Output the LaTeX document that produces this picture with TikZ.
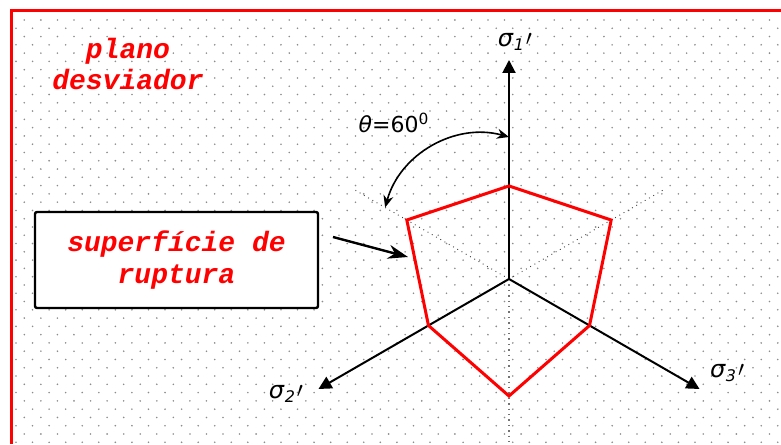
\documentclass[tikz,border=0pt]{standalone}
\usepackage{fontspec}
\usetikzlibrary{arrows.meta}
\newfontfamily\notefont{Liberation Mono}
\newfontfamily\greekfont{DejaVu Sans}
\definecolor{planered}{RGB}{255,0,0}
\definecolor{dotgray}{RGB}{140,140,140}
\newcommand\primemark{\kern0.5pt\raisebox{0.1ex}{\fontsize{11}{11}\selectfont$\prime$}}

\begin{document}
\begin{tikzpicture}[
  x=0.5pt, y=0.5pt,
  axis/.style={line width=1pt,-{Triangle[length=6.5pt,width=6.5pt]}},
  guide/.style={dotted,line width=0.45pt,black!75},
  rupt/.style={draw=planered,line width=1.5pt},
  redtxt/.style={text=planered,align=center,
    font=\notefont\bfseries\itshape\fontsize{14}{15.8}\selectfont},
  sigmalbl/.style={inner sep=0pt,font=\greekfont\fontsize{12}{14}\selectfont},
  anglearr/.style={line width=0.8pt,
    {Stealth[length=6pt,width=5pt]}-{Stealth[length=6pt,width=5pt]}},
  ptr/.style={line width=1.2pt,-{Stealth[length=10pt,width=7pt]}}
]
\useasboundingbox (0,0) rectangle (781,444);
\clip (0,0) rectangle (781,444);

% dotted paper
\foreach \j in {0,...,51}{
  \pgfmathsetmacro\yy{424-8.28*\j}
  \pgfmathsetmacro\xo{24.3-8.3*mod(\j,2)}
  \fill[dotgray] \foreach \i in {0,...,46} {(\xo+16.56*\i,\yy) circle (0.9)};
}

% frame (only left and top edges fall inside)
\coordinate (fbl) at (11,0);
\coordinate (ftl) at (11,433);
\coordinate (ftr) at (781,433);
\draw[planered,line width=1.5pt] (fbl) -- (ftl) -- (ftr);

% deviatoric plane: origin, axes, guide lines
\coordinate (O) at (509,165);
\coordinate (s1) at ([shift={(90:219)}]O);
\coordinate (s2) at ([shift={(210:220)}]O);
\coordinate (s3) at ([shift={(330:220)}]O);
\coordinate (g1) at ([shift={(150:178)}]O);
\coordinate (g2) at ([shift={(30:178)}]O);
\coordinate (g3) at ([shift={(270:165)}]O);

\draw[guide] (O) -- (g1);
\draw[guide] (O) -- (g2);
\draw[guide,black!55,line width=0.7pt] (O) -- (g3);

\draw[axis] (O) -- (s1);
\draw[axis] (O) -- (s2);
\draw[axis] (O) -- (s3);

% failure surface
\foreach \ang/\rad [count=\k] in {90/93,150/118,210/93,270/117,330/93,30/118}
  \coordinate (h\k) at ([shift={(\ang:\rad)}]O);
\draw[rupt] (h1)--(h2)--(h3)--(h4)--(h5)--(h6)--cycle;

% angle between axis and guide
\coordinate (a1) at ([shift={(150:143)}]O);
\coordinate (a2) at ([shift={(90:142)}]O);
\draw[anglearr] (a1) to[bend left=45] (a2);

% labels
\node[redtxt] (plano) at (128,380) {plano\\desviador};

\node[redtxt,draw=black,fill=white,line width=1.2pt,rounded corners=1pt,
  minimum width=141.5pt,minimum height=48pt] (sup) at (176.5,184)
  {superfície de\\ruptura};

\coordinate (ptrtail) at (333,207);
\coordinate (ptrtip) at (408,187);
\draw[ptr] (ptrtail) -- (ptrtip);

\node[sigmalbl] (l1) at (515,402) {\textit{σ}\textsubscript{\textit{1}}\primemark};
\node[sigmalbl] (l2) at (286,50) {\textit{σ}\textsubscript{\textit{2}}\primemark};
\node[sigmalbl] (l3) at (727,71) {\textit{σ}\textsubscript{\textit{3}}\primemark};
\node[sigmalbl,font=\greekfont\fontsize{11}{13}\selectfont] (theta) at (394,321)
  {\textit{θ}=60\textsuperscript{0}};
\end{tikzpicture}
\end{document}
